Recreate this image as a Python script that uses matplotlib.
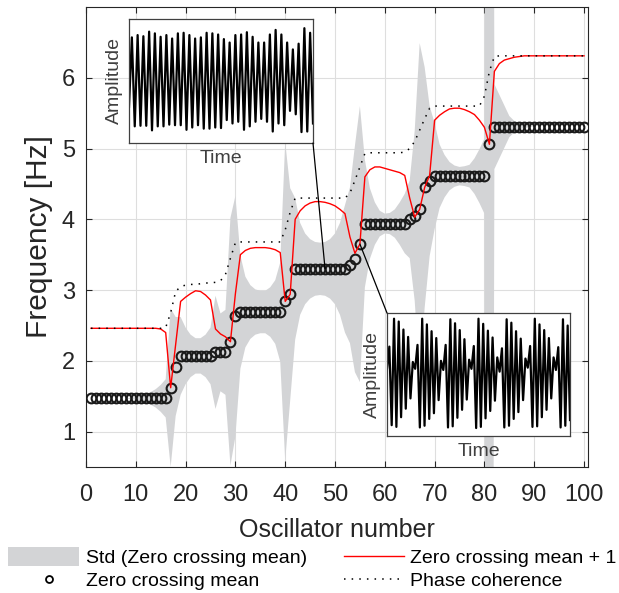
import numpy as np
import matplotlib
matplotlib.use('Agg')
import matplotlib.pyplot as plt
from matplotlib.patches import Patch, Rectangle, ConnectionPatch
from matplotlib.lines import Line2D
from matplotlib.legend_handler import HandlerPatch

plt.rcParams['font.family'] = ['Liberation Sans', 'DejaVu Sans']

# oscillator index
osc = np.arange(1, 101)

# zero crossing mean [Hz] (circles)
zc_mean = [
    1.47, 1.47, 1.47, 1.47, 1.47, 1.47, 1.47, 1.47, 1.47, 1.47,
    1.47, 1.47, 1.47, 1.47, 1.47, 1.47, 1.62, 1.92, 2.07, 2.07,
    2.07, 2.07, 2.07, 2.07, 2.07, 2.12, 2.12, 2.12, 2.27, 2.63,
    2.69, 2.69, 2.69, 2.69, 2.69, 2.69, 2.69, 2.69, 2.69, 2.84,
    2.94, 3.30, 3.30, 3.30, 3.30, 3.30, 3.30, 3.30, 3.30, 3.30,
    3.30, 3.30, 3.35, 3.44, 3.65, 3.94, 3.94, 3.94, 3.94, 3.94,
    3.94, 3.94, 3.94, 3.94, 4.00, 4.05, 4.14, 4.45, 4.54, 4.61,
    4.61, 4.61, 4.61, 4.61, 4.61, 4.61, 4.61, 4.61, 4.61, 4.61,
    5.06, 5.31, 5.31, 5.31, 5.31, 5.31, 5.31, 5.31, 5.31, 5.31,
    5.31, 5.31, 5.31, 5.31, 5.31, 5.31, 5.31, 5.31, 5.31, 5.31,
]

# std of the zero crossing mean
zc_std = [
    0.00, 0.00, 0.00, 0.00, 0.00, 0.00, 0.00, 0.00, 0.01, 0.02,
    0.04, 0.06, 0.09, 0.13, 0.19, 0.27, 1.12, 0.70, 0.55, 0.40,
    0.30, 0.25, 0.25, 0.30, 0.40, 0.80, 0.55, 0.60, 1.75, 1.70,
    0.80, 0.50, 0.38, 0.32, 0.30, 0.30, 0.35, 0.45, 0.70, 2.25,
    1.50, 1.00, 0.65, 0.50, 0.42, 0.38, 0.37, 0.38, 0.42, 0.50,
    0.65, 0.90, 1.10, 1.60, 1.95, 0.90, 0.50, 0.30, 0.18, 0.14,
    0.15, 0.20, 0.30, 0.42, 0.55, 1.20, 2.35, 1.70, 1.06, 0.75,
    0.45, 0.30, 0.20, 0.15, 0.13, 0.14, 0.16, 0.25, 0.38, 0.53,
    30.0, 0.60, 0.45, 0.30, 0.15, 0.08, 0.04, 0.02, 0.01, 0.00,
    0.00, 0.00, 0.00, 0.00, 0.00, 0.00, 0.00, 0.00, 0.00, 0.00,
]

# zero crossing mean + 1 (red line)
zc_plus = [
    2.46, 2.46, 2.46, 2.46, 2.46, 2.46, 2.46, 2.46, 2.46, 2.46,
    2.46, 2.46, 2.46, 2.46, 2.45, 2.40, 1.62, 2.23, 2.84, 2.90,
    2.95, 2.99, 2.98, 2.93, 2.86, 2.45, 2.38, 2.34, 2.27, 2.95,
    3.50, 3.56, 3.59, 3.60, 3.60, 3.60, 3.59, 3.57, 3.53, 2.84,
    2.94, 4.00, 4.12, 4.19, 4.23, 4.25, 4.25, 4.24, 4.22, 4.19,
    4.14, 4.08, 3.75, 3.52, 3.65, 4.60, 4.70, 4.74, 4.74, 4.72,
    4.70, 4.68, 4.66, 4.62, 4.30, 4.03, 4.14, 4.45, 4.62, 5.40,
    5.47, 5.52, 5.56, 5.57, 5.57, 5.55, 5.52, 5.48, 5.40, 5.30,
    5.06, 6.09, 6.20, 6.25, 6.27, 6.29, 6.30, 6.31, 6.31, 6.31,
    6.31, 6.31, 6.31, 6.31, 6.31, 6.31, 6.31, 6.31, 6.31, 6.31,
]

# phase coherence (dotted line)
phase_coh = [
    2.46, 2.46, 2.46, 2.46, 2.46, 2.46, 2.46, 2.46, 2.46, 2.46,
    2.46, 2.46, 2.46, 2.46, 2.46, 2.47, 2.68, 2.98, 3.05, 3.07,
    3.08, 3.08, 3.09, 3.10, 3.10, 3.11, 3.13, 3.22, 3.45, 3.67,
    3.68, 3.68, 3.68, 3.68, 3.68, 3.68, 3.68, 3.68, 3.68, 3.85,
    4.10, 4.30, 4.30, 4.30, 4.30, 4.30, 4.30, 4.30, 4.30, 4.30,
    4.30, 4.30, 4.37, 4.55, 4.74, 4.93, 4.94, 4.94, 4.94, 4.94,
    4.94, 4.94, 4.94, 4.95, 5.00, 5.10, 5.26, 5.42, 5.57, 5.60,
    5.60, 5.60, 5.60, 5.60, 5.60, 5.60, 5.60, 5.60, 5.60, 5.74,
    6.09, 6.30, 6.31, 6.31, 6.31, 6.31, 6.31, 6.31, 6.31, 6.31,
    6.31, 6.31, 6.31, 6.31, 6.31, 6.31, 6.31, 6.31, 6.31, 6.31,
]

# inset signals: successive extrema
sig1 = [-0.45,
        0.76, -0.79, 0.80, -0.78, 0.78, -0.78, 0.86, -0.86, 0.83, -0.79,
        0.77, -0.79, 0.80, -0.76, 0.74, -0.77, 0.83, -0.77, 0.84, -0.85,
        0.80, -0.81, 0.74, -0.77, 0.76, -0.83, 0.84, -0.83, 0.83, -0.81,
        0.81, -0.82, 0.73, -0.68, 0.67, -0.74, 0.80, -0.71, 0.81, -0.85,
        0.85, -0.79, 0.77, -0.71, 0.67, -0.66, 0.67, -0.71, 0.81, -0.88,
        0.89, -0.74, 0.81, -0.77, 0.67, -0.52, 0.55, -0.58, 0.65, -0.89,
        0.92, -0.88, 0.84, -0.74]
sig2 = [0.10,
        0.49, -0.89, 0.98, -0.92, 0.93, -0.75, 0.79, -0.60, 0.66, -0.42, 0.22, 0.10, 0.52, -0.93,
        0.98, -0.90, 0.88, -0.78, 0.76, -0.68, 0.64, -0.45, 0.24, 0.08, 0.52, -0.93,
        0.97, -0.91, 0.90, -0.76, 0.78, -0.62, 0.62, -0.44, 0.26, 0.10, 0.50, -0.94,
        0.98, -0.92, 0.89, -0.77, 0.77, -0.64, 0.65, -0.46, 0.30, 0.05, 0.46, -0.93,
        0.97, -0.90, 0.91, -0.78, 0.76, -0.66, 0.63, -0.45, 0.28, 0.12, 0.50, -0.92,
        0.98, -0.91, 0.88, -0.75, 0.78, -0.62, 0.64, -0.42, 0.30, 0.08, 0.48, -0.93,
        0.97, -0.90, 0.86, -0.80]

dark = '#262626'
grey_fill = '#d3d4d6'

fig = plt.figure(figsize=(6.19, 5.93), dpi=100)
ax = fig.add_axes([86/619, 1-467/593, 502/619, 460/593])

zc = np.array(zc_mean)
sd = np.array(zc_std)
ax.fill_between(osc, zc - sd, zc + sd, color=grey_fill, lw=0, zorder=1)
ax.plot(osc, zc, 'o', mfc='none', mec='#1a1a1a', ms=7, mew=1.5, zorder=3)
ax.plot(osc, zc_plus, color='red', lw=1, zorder=4)
ax.plot(osc, phase_coh, color='black', lw=1.1, ls=(0, (1, 4)), zorder=4)

ax.set_xlim(0, 100.8)
ax.set_ylim(0.5, 7)
ax.set_xticks(range(0, 101, 10))
ax.set_yticks(range(1, 7))
ax.grid(True, color='#dedede', lw=0.8, zorder=0)
ax.set_axisbelow(True)
ax.tick_params(direction='in', top=True, right=True, length=4, width=0.8,
               labelsize=17, colors=dark)
ax.tick_params(axis='x', pad=12)
ax.tick_params(axis='y', pad=8)
for s in ax.spines.values():
    s.set_color(dark)
    s.set_linewidth(0.8)
ax.set_xlabel('Oscillator number', fontsize=18, color=dark, labelpad=9)
ax.set_ylabel('Frequency [Hz]', fontsize=21.5, color=dark, labelpad=6)

# insets
def inset(rect, sig):
    a = fig.add_axes(rect)
    a.plot(np.arange(len(sig)), sig, color='black', lw=1.6)
    a.set_xlim(0, len(sig) - 1)
    a.set_ylim(-1.08, 1.08)
    a.set_xticks([])
    a.set_yticks([])
    a.set_facecolor('white')
    for s in a.spines.values():
        s.set_color('#404040')
        s.set_linewidth(0.9)
    a.set_xlabel('Time', fontsize=14, color='#404040', labelpad=5)
    a.set_ylabel('Amplitude', fontsize=14, color='#404040', labelpad=4)
    return a

in1 = inset([129/619, 1-143/593, 184/619, 124/593], sig1)
in2 = inset([387/619, 1-436/593, 183/619, 123/593], sig2)

c1 = ConnectionPatch(xyA=(1, 0), coordsA=in1.transAxes, xyB=(48, 3.30),
                     coordsB=ax.transData, color='black', lw=0.9)
c2 = ConnectionPatch(xyA=(0, 1), coordsA=in2.transAxes, xyB=(55, 3.65),
                     coordsB=ax.transData, color='black', lw=0.9)
fig.add_artist(c1)
fig.add_artist(c2)


# legend patch a bit wider than the line handles
def wide_patch(legend, orig_handle, xdescent, ydescent, width, height, fontsize):
    return Rectangle((-xdescent - 8, -ydescent - 1.5), width + 8, height + 3)


handles = [
    Patch(color=grey_fill, lw=0),
    Line2D([], [], marker='o', ls='none', mfc='none', mec='black', ms=5, mew=1.3),
    Line2D([], [], color='red', lw=1),
    Line2D([], [], color='black', lw=1.1, ls=(0, (1, 4))),
]
labels = ['Std (Zero crossing mean)', 'Zero crossing mean',
          'Zero crossing mean + 1', 'Phase coherence']
fig.legend(handles, labels, ncol=2, loc='upper left',
           bbox_to_anchor=(19/619, 1-549/593), frameon=False, fontsize=14,
           handlelength=3.1, handleheight=0.8, handletextpad=0.33,
           columnspacing=1.9, borderpad=0, borderaxespad=0, labelspacing=0.25,
           handler_map={Patch: HandlerPatch(patch_func=wide_patch)})

fig.savefig('out.png', dpi=100)
